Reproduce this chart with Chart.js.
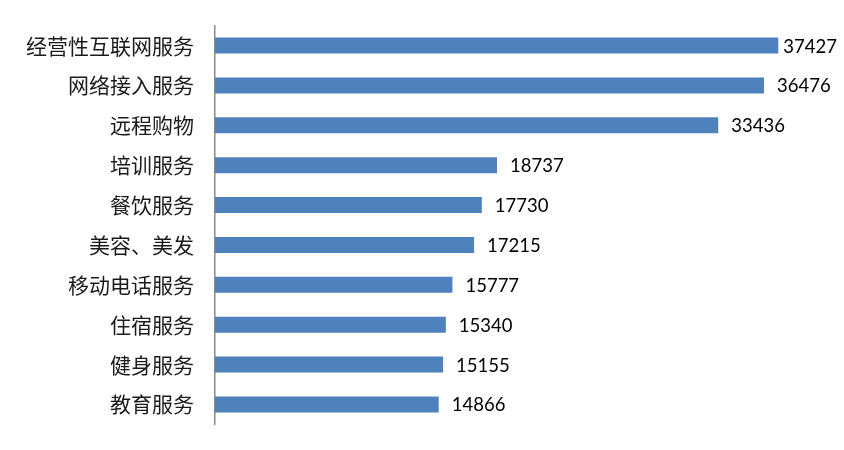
<!DOCTYPE html>
<html>
<head>
<meta charset="utf-8">
<script src="https://cdn.jsdelivr.net/npm/chart.js@4"></script>
<style>
  html, body { margin: 0; padding: 0; background: #fff; }
  #c { display: block; }
</style>
</head>
<body>
<canvas id="c" width="844" height="450"></canvas>
<script>
// ─── Data ─────────────────────────────────────────────────────────────────────
const categories = [
  '经营性互联网服务', '网络接入服务', '远程购物', '培训服务', '餐饮服务',
  '美容、美发', '移动电话服务', '住宿服务', '健身服务', '教育服务',
];
const values = [37427, 36476, 33436, 18737, 17730, 17215, 15777, 15340, 15155, 14866];

const xMax = 40000;

// ─── Value labels at the bar ends ─────────────────────────────────────────────
// Labels sit a little right of the bar; the longest one is pulled back to fit.
const valueLabels = {
  id: 'valueLabels',
  afterDatasetsDraw(chart) {
    const ctx  = chart.ctx;
    const meta = chart.getDatasetMeta(0);
    ctx.save();
    ctx.font         = '18.5px Lato, "Open Sans", sans-serif';
    ctx.fillStyle    = '#000';
    ctx.textAlign    = 'left';
    ctx.textBaseline = 'middle';
    meta.data.forEach((bar, i) => {
      const txt = String(values[i]);
      const w   = ctx.measureText(txt).width;
      let x     = bar.x + 13;
      if (x + w > 836) x = Math.max(bar.x + 5, 836 - w);
      ctx.fillText(txt, x, bar.y + 1);
    });
    ctx.restore();
  },
};

new Chart(document.getElementById('c'), {
  type: 'bar',
  data: {
    labels: categories,
    datasets: [{
      data:               values,
      backgroundColor:    'rgb(79, 129, 189)',
      borderWidth:        0,
      categoryPercentage: 1,
      barPercentage:      0.4,
    }],
  },
  options: {
    indexAxis:  'y',
    responsive: false,
    animation:  false,
    layout: { padding: { top: 24, bottom: 20, right: 27, left: 0 } },
    plugins: {
      legend:  { display: false },
      tooltip: { enabled: false },
    },
    scales: {
      x: { display: false, min: 0, max: xMax },
      y: {
        grid:   { display: false },
        border: { display: true, color: '#8a8a8a', width: 1.5 },
        ticks: {
          color:   '#1a1a1a',
          padding: 13,
          font:    { family: '"Noto Sans CJK SC", sans-serif', size: 21 },
        },
        afterFit(scale) { scale.width = 215; },
      },
    },
  },
  plugins: [valueLabels],
});
</script>
</body>
</html>
